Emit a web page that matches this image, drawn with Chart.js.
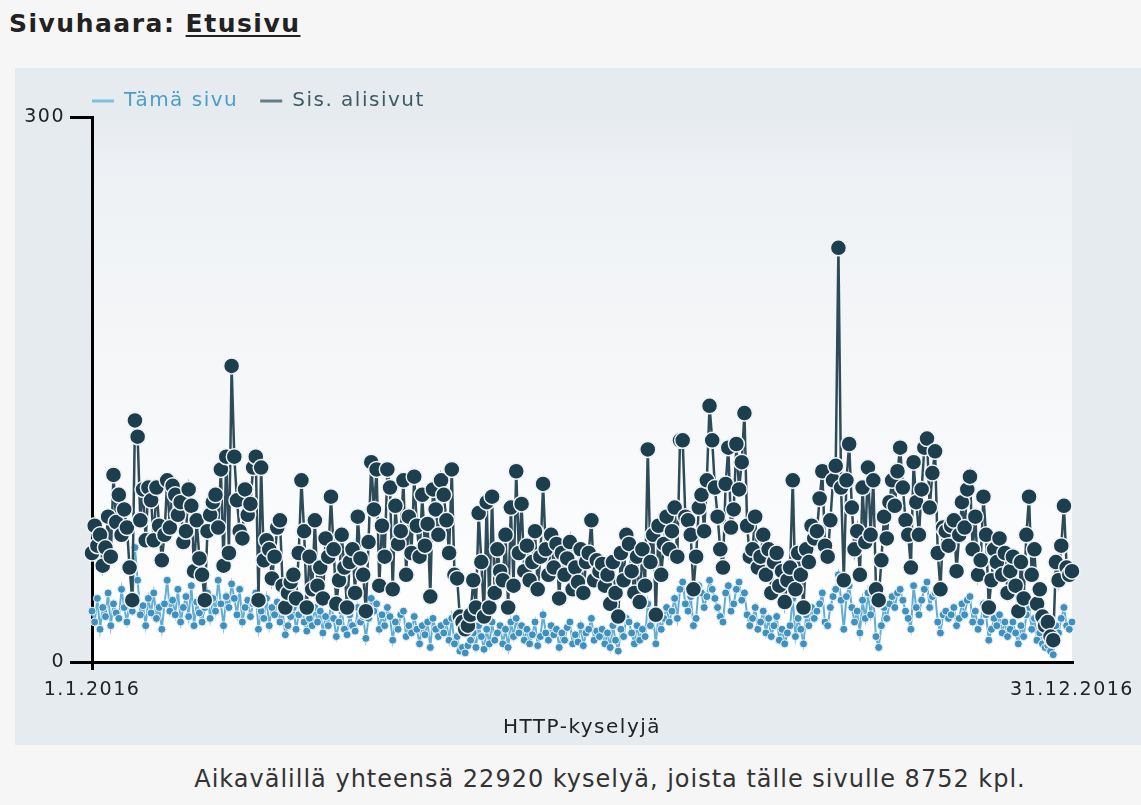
<!DOCTYPE html>
<html>
<head>
<meta charset="utf-8">
<script src="https://cdn.jsdelivr.net/npm/chart.js@4.4.1/dist/chart.umd.min.js"></script>
<style>
    html, body { margin: 0; padding: 0; background: #f6f6f6; overflow: hidden; }
    body { width: 1141px; height: 805px; position: relative; font-family: "DejaVu Sans", Verdana, sans-serif; }
    #title { position: absolute; left: 9px; top: 9px; font-size: 25px; letter-spacing: 1.5px; font-weight: bold; color: #222; }
    #title u { text-decoration-thickness: 2px; text-underline-offset: 3px; }
    #panel { position: absolute; left: 15px; top: 68px; width: 1126px; height: 677px; background: #e6ebf0; }
    #footer { position: absolute; left: 0; top: 765px; width: 1220px; text-align: center; font-size: 24px; letter-spacing: 1px; color: #333; }
</style>
</head>
<body>
<div id="title">Sivuhaara: <u>Etusivu</u></div>
<div id="panel"><canvas id="myChartPage"></canvas></div>
<div id="footer">Aikavälillä yhteensä 22920 kyselyä, joista tälle sivulle 8752 kpl.</div>

<script>
//DATA
const seriesNames = ['Tämä sivu', 'Sis. alisivut'];
const axisTitle = 'HTTP-kyselyjä';
const yTicks = [0, 300];

// days of 2016 (leap year -> 366)
const dayLabels = [];
for (let i = 0; i < 366; i++) {
    let d = new Date(2016, 0, 1 + i);
    dayLabels.push(d.getDate() + '.' + (d.getMonth() + 1) + '.' + d.getFullYear());
}

// requests for this page
const thisPage = [
    28, 22, 35, 18, 30, 25, 38, 20, 32, 27,
    24, 40, 30, 22, 33, 28, 63, 45, 26, 31,
    20, 35, 27, 38, 24, 30, 18, 32, 45, 28,
    34, 26, 40, 22, 30, 36, 25, 42, 20, 33,
    27, 22, 30, 38, 24, 35, 28, 45, 32, 20,
    36, 30, 43, 35, 26, 40, 22, 30, 34, 25,
    32, 38, 18, 28, 24, 35, 20, 30, 26, 33,
    22, 28, 15, 20, 25, 30, 18, 26, 35, 22,
    17, 24, 20, 30, 22, 28, 16, 25, 20, 32,
    24, 14, 22, 28, 18, 15, 26, 20, 17, 30,
    22, 25, 13, 24, 35, 28, 32, 18, 26, 20,
    30, 25, 12, 22, 18, 26, 28, 14, 20, 16,
    25, 18, 10, 20, 15, 22, 8, 24, 18, 14,
    20, 16, 22, 12, 24, 10, 14, 6, 8, 5,
    9, 12, 16, 8, 20, 14, 7, 18, 10, 22,
    12, 16, 20, 10, 18, 8, 22, 14, 24, 16,
    20, 12, 18, 10, 15, 22, 9, 14, 26, 16,
    12, 20, 15, 18, 8, 16, 12, 19, 22, 10,
    15, 11, 20, 9, 16, 18, 24, 12, 17, 14,
    18, 10, 16, 8, 20, 12, 6, 18, 14, 24,
    22, 16, 10, 20, 12, 18, 14, 32, 20, 25,
    10, 26, 18, 24, 30, 22, 28, 35, 24, 40,
    44, 32, 28, 36, 20, 24, 42, 38, 30, 36,
    45, 40, 35, 30, 25, 22, 38, 42, 28, 32,
    40, 44, 34, 38, 26, 20, 24, 30, 18, 22,
    28, 16, 24, 14, 20, 25, 12, 18, 10, 16,
    20, 35, 14, 24, 18, 10, 26, 20, 30, 24,
    28, 32, 38, 22, 20, 30, 36, 40, 48, 34,
    18, 36, 42, 30, 22, 28, 16, 34, 24, 38,
    26, 35, 14, 8, 20, 30, 24, 32, 36, 30,
    38, 40, 34, 28, 24, 18, 42, 30, 26, 34,
    40, 44, 30, 36, 38, 22, 16, 26, 28, 24,
    26, 30, 20, 24, 32, 26, 34, 36, 22, 28,
    18, 22, 32, 26, 12, 18, 24, 20, 26, 16,
    22, 14, 18, 22, 16, 10, 20, 14, 26, 30,
    18, 24, 12, 16, 10, 8, 9, 6, 4, 20,
    16, 24, 30, 20, 18, 22
];

// requests incl. subpages
const subPages = [
    60, 75, 64, 70, 53, 63, 80, 58, 103, 77,
    92, 70, 84, 74, 52, 34, 133, 124, 78, 95,
    67, 96, 89, 67, 96, 75, 56, 70, 100, 74,
    97, 92, 81, 88, 66, 72, 95, 86, 50, 78,
    57, 48, 34, 72, 81, 88, 92, 74, 106, 53,
    113, 60, 163, 113, 89, 72, 68, 95, 81, 87,
    107, 113, 34, 107, 56, 67, 62, 46, 58, 74,
    78, 42, 30, 38, 44, 48, 35, 60, 100, 72,
    30, 58, 40, 78, 42, 52, 35, 68, 58, 91,
    62, 32, 45, 70, 52, 30, 55, 62, 38, 80,
    57, 48, 28, 66, 110, 84, 106, 42, 75, 58,
    106, 96, 40, 86, 65, 72, 100, 48, 80, 60,
    102, 75, 58, 92, 64, 76, 36, 95, 84, 70,
    100, 92, 78, 60, 106, 48, 46, 25, 22, 18,
    20, 26, 45, 30, 82, 55, 25, 88, 30, 91,
    38, 62, 50, 45, 70, 30, 85, 42, 105, 60,
    87, 50, 64, 45, 55, 72, 40, 58, 98, 62,
    48, 70, 52, 65, 35, 60, 48, 57, 66, 40,
    52, 44, 62, 38, 55, 60, 78, 45, 56, 50,
    54, 42, 48, 32, 55, 38, 25, 60, 45, 70,
    65, 50, 38, 58, 33, 62, 42, 117, 55, 70,
    26, 75, 48, 65, 80, 62, 72, 85, 58, 122,
    122, 80, 78, 70, 40, 58, 85, 92, 72, 100,
    141, 122, 96, 80, 62, 52, 98, 118, 74, 84,
    120, 95, 110, 137, 75, 58, 62, 80, 52, 58,
    70, 48, 62, 38, 55, 60, 42, 50, 33, 45,
    52, 100, 40, 60, 48, 30, 62, 55, 75, 68,
    72, 90, 105, 64, 58, 78, 100, 108, 228, 96,
    45, 100, 120, 85, 62, 72, 48, 96, 66, 107,
    70, 100, 40, 34, 56, 80, 68, 88, 100, 86,
    105, 118, 96, 78, 70, 52, 110, 88, 70, 95,
    118, 123, 85, 104, 116, 60, 40, 74, 72, 64,
    75, 78, 50, 70, 88, 74, 95, 102, 62, 80,
    48, 56, 91, 70, 30, 45, 62, 55, 68, 48,
    60, 38, 50, 58, 42, 28, 55, 35, 70, 91,
    48, 62, 32, 40, 25, 20, 22, 14, 12, 55,
    45, 64, 86, 52, 48, 50
];

const legendTextColors = ['#4b9fc6', '#3e5a66'];
const legendLineColors = ['#7cc0dd', '#647d88'];


//WIDER CANVAS TEXT (canvas state is reset on resize, so set it again)
const setSpacing = (chart) => {
    chart.ctx.letterSpacing = '1.5px';
};

const textSpacing = {
    id: 'textSpacing',
    beforeUpdate: setSpacing,
    beforeLayout: setSpacing,
    beforeDraw: setSpacing
};

//PLOT AREA BACKGROUND (fades to white)
const plotBackground = {
    id: 'plotBackground',
    beforeDraw: (chart) => {
        const { ctx, chartArea } = chart;
        let grad = ctx.createLinearGradient(0, chartArea.top, 0, chartArea.bottom);
        grad.addColorStop(0, '#e6ebf0');
        grad.addColorStop(0.1, '#eef1f4');
        grad.addColorStop(1, '#ffffff');
        ctx.save();
        ctx.fillStyle = grad;
        ctx.fillRect(chartArea.left, chartArea.top, chartArea.right - chartArea.left, chartArea.bottom - chartArea.top);
        ctx.restore();
    }
};

//LEGEND STARTS AT THE Y AXIS
const legendShift = {
    id: 'legendShift',
    afterLayout: (chart) => {
        const pad = chart.options.plugins.legend.labels.padding;
        chart.legend.left = chart.chartArea.left - pad;
        chart.legend.top += 4;
    }
};


const ctx = document.getElementById('myChartPage');

new Chart(ctx, {
    type: 'line',
    data: {
        labels: dayLabels,
        datasets: [{
            label: seriesNames[0],
            data: thisPage,
            order: 2,
            borderColor: '#62add3',
            borderWidth: 2,
            backgroundColor: '#3f90bd',
            pointBackgroundColor: '#3f90bd',
            pointBorderColor: '#eaf3f8',
            pointBorderWidth: 1,
            pointRadius: 4,
            tension: 0
        }, {
            label: seriesNames[1],
            data: subPages,
            order: 1,
            borderColor: '#2d4b58',
            borderWidth: 2.5,
            backgroundColor: '#1d3e4c',
            pointBackgroundColor: '#1d3e4c',
            pointBorderColor: '#eef2f4',
            pointBorderWidth: 1.5,
            pointRadius: 8,
            tension: 0
        }]
    },
    options: {
        responsive: true,
        maintainAspectRatio: false,
        animation: false,
        layout: {
            padding: { top: -3, right: 69, bottom: 0, left: 0 }
        },
        plugins: {
            tooltip: { enabled: false },
            legend: {
                position: 'top',
                align: 'start',
                fullSize: false,
                labels: {
                    usePointStyle: true,
                    pointStyle: 'line',
                    pointStyleWidth: 22,
                    padding: 22,
                    boxWidth: 22,
                    font: { family: 'DejaVu Sans', size: 20 },
                    generateLabels: (chart) => chart.data.datasets.map((ds, i) => ({
                        text: ds.label,
                        fillStyle: ds.borderColor,
                        strokeStyle: legendLineColors[i],
                        lineWidth: 3,
                        pointStyle: 'line',
                        fontColor: legendTextColors[i],
                        hidden: false,
                        datasetIndex: i
                    }))
                }
            }
        },
        scales: {
            x: {
                ticks: {
                    autoSkip: false,
                    maxRotation: 0,
                    minRotation: 0,
                    padding: 9,
                    color: '#222',
                    font: { family: 'DejaVu Sans', size: 19 },
                    callback: function (value, index) {
                        if (index === 0 || index === dayLabels.length - 1) {
                            return dayLabels[index];
                        }
                        return '';
                    }
                },
                grid: {
                    drawOnChartArea: false,
                    drawTicks: true,
                    tickLength: 8,
                    lineWidth: 3,
                    tickColor: (c) => (c.index === 0 ? '#000' : 'rgba(0,0,0,0)')
                },
                border: { color: '#000', width: 3 },
                title: {
                    display: true,
                    text: axisTitle,
                    color: '#222',
                    font: { family: 'DejaVu Sans', size: 20 },
                    padding: { top: 4, bottom: 5 }
                },
                afterFit: (s) => {
                    s.paddingLeft = 0;
                    s.paddingRight = 0;
                    s.height = 83;
                }
            },
            y: {
                min: yTicks[0],
                max: yTicks[1],
                ticks: {
                    stepSize: yTicks[1] - yTicks[0],
                    padding: 5,
                    color: '#222',
                    font: { family: 'DejaVu Sans', size: 19 }
                },
                grid: {
                    drawOnChartArea: false,
                    drawTicks: true,
                    tickLength: 22,
                    lineWidth: 3,
                    tickColor: '#000'
                },
                border: { color: '#000', width: 3 },
                afterFit: (s) => {
                    s.width = 77;
                }
            }
        }
    },
    plugins: [textSpacing, plotBackground, legendShift]
});
</script>
</body>
</html>
